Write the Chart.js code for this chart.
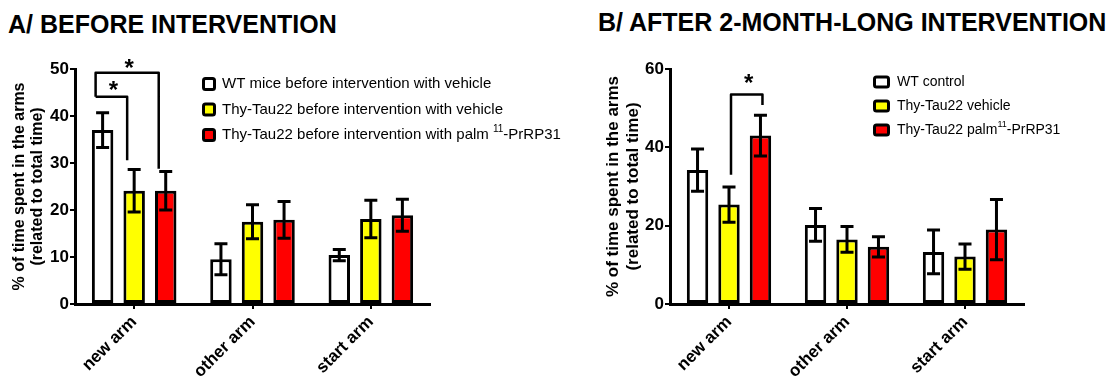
<!DOCTYPE html>
<html>
<head>
<meta charset="utf-8">
<script src="https://cdn.jsdelivr.net/npm/chart.js@4.4.1/dist/chart.umd.min.js"></script>
<style>
  body { margin: 0; width: 1110px; height: 378px; background: #fff; position: relative; overflow: hidden; font-family: "Liberation Sans", Arial, sans-serif; }
  .titulo { position: absolute; font-weight: bold; font-size: 25px; line-height: 25px; color: #000; white-space: nowrap; }
  canvas { position: absolute; top: 0; }
</style>
</head>
<body>
<div class="titulo" style="left:8px; top:12px">A/ BEFORE INTERVENTION</div>
<div class="titulo" style="left:598px; top:10px">B/ AFTER 2-MONTH-LONG INTERVENTION</div>
<canvas id="graficoA" width="570" height="378" style="left:0"></canvas>
<canvas id="graficoB" width="540" height="378" style="left:570px"></canvas>
<script>
//Datos
var categorias = ['new arm', 'other arm', 'start arm']
var tituloY = ['% of time spent in the arms', '(related to total time)']
var colores = ['#ffffff', '#ffff00', '#ff0000']

// A/ antes de la intervencion
var etiquetasA = ['WT mice before intervention with vehicle', 'Thy-Tau22 before intervention with vehicle', 'Thy-Tau22 before intervention with palm ¹¹-PrRP31']
var wtAntes = [37.0, 9.5, 10.4]
var wtAntesErr = [3.7, 3.3, 1.2]
var vehAntes = [24.1, 17.5, 18.1]
var vehAntesErr = [4.5, 3.6, 4.0]
var palmAntes = [24.1, 17.9, 18.9]
var palmAntesErr = [4.1, 3.9, 3.4]
var ticksA = [0, 10, 20, 30, 40, 50]

// B/ despues de 2 meses
var etiquetasB = ['WT control', 'Thy-Tau22 vehicle', 'Thy-Tau22 palm¹¹-PrRP31']
var wtDespues = [34.2, 20.2, 13.3]
var wtDespuesErr = [5.4, 4.2, 5.6]
var vehDespues = [25.4, 16.5, 12.1]
var vehDespuesErr = [4.5, 3.3, 3.2]
var palmDespues = [43.0, 14.6, 19.0]
var palmDespuesErr = [5.2, 2.6, 7.7]
var ticksB = [0, 20, 40, 60]

// corchetes de significancia (valores en unidades del eje y)
var signifA = [
    { grupo: 0, desde: 0, hasta: 2, nivel: 49.2, bajaDesde: 44.1, bajaHasta: 28.8, estrella: 51.3 },
    { grupo: 0, desde: 0, hasta: 1, nivel: 44.1, bajaDesde: 44.1, bajaHasta: 30.6, estrella: 46.6 }
]
var signifB = [
    { grupo: 0, desde: 1, hasta: 2, nivel: 53.5, bajaDesde: 33.0, bajaHasta: 50.8, estrella: 57.8 }
]

var fuente = '"Liberation Sans", Arial, sans-serif'
var supers = '⁰¹²³⁴⁵⁶⁷⁸⁹'

function escribir(ctx, texto, x, y, size) {
    var partes = texto.split(/([⁰¹²³⁴⁵⁶⁷⁸⁹]+)/)
    partes.forEach((p, k) => {
        if (!p) return
        var esSup = k % 2 == 1
        var t = esSup ? p.split('').map(c => supers.indexOf(c)).join('') : p
        ctx.font = (esSup ? Math.round(size * 0.66) : size) + 'px ' + fuente
        ctx.fillText(t, x, esSup ? y - size * 0.36 : y)
        x += ctx.measureText(t).width
    })
}

var barrasError = {
    id: 'barrasError',
    afterDatasetsDraw(chart) {
        var ctx = chart.ctx
        var ejeY = chart.scales.y
        ctx.save()
        ctx.strokeStyle = '#000'
        ctx.lineWidth = 3
        chart.data.datasets.forEach((ds, i) => {
            chart.getDatasetMeta(i).data.forEach((barra, j) => {
                var arriba = ejeY.getPixelForValue(ds.data[j] + ds.errores[j])
                var abajo = ejeY.getPixelForValue(ds.data[j] - ds.errores[j])
                ctx.beginPath()
                ctx.moveTo(barra.x, arriba); ctx.lineTo(barra.x, abajo)
                ctx.moveTo(barra.x - 6.5, arriba); ctx.lineTo(barra.x + 6.5, arriba)
                ctx.moveTo(barra.x - 6.5, abajo); ctx.lineTo(barra.x + 6.5, abajo)
                ctx.stroke()
            })
        })
        ctx.restore()
    }
}

var corchetes = {
    id: 'corchetes',
    afterDraw(chart, args, op) {
        var ctx = chart.ctx
        var ejeY = chart.scales.y
        ctx.save()
        ctx.strokeStyle = '#000'
        ctx.fillStyle = '#000'
        ctx.lineWidth = 2.5
        ctx.lineJoin = 'round'
        op.items.forEach(s => {
            var x1 = chart.getDatasetMeta(s.desde).data[s.grupo].x + op.dx
            var x2 = chart.getDatasetMeta(s.hasta).data[s.grupo].x + op.dx
            var yn = ejeY.getPixelForValue(s.nivel)
            ctx.beginPath()
            ctx.moveTo(x1, ejeY.getPixelForValue(s.bajaDesde))
            ctx.lineTo(x1, yn)
            ctx.lineTo(x2, yn)
            ctx.lineTo(x2, ejeY.getPixelForValue(s.bajaHasta))
            ctx.stroke()
            ctx.font = 'bold 24px ' + fuente
            ctx.textAlign = 'center'
            ctx.textBaseline = 'alphabetic'
            ctx.fillText('*', (x1 + x2) / 2 + 2, ejeY.getPixelForValue(s.estrella) + 13)
        })
        ctx.restore()
    }
}

var leyenda = {
    id: 'leyenda',
    afterDraw(chart, args, op) {
        var ctx = chart.ctx
        chart.data.datasets.forEach((ds, i) => {
            var cy = op.y + i * op.paso
            ctx.save()
            ctx.fillStyle = ds.backgroundColor
            ctx.strokeStyle = '#000'
            ctx.lineWidth = 3
            ctx.beginPath()
            ctx.roundRect(op.x + 1.5, cy - op.alto / 2 + 1.5, op.ancho - 3, op.alto - 3, 2)
            ctx.fill()
            ctx.stroke()
            ctx.fillStyle = '#000'
            ctx.textBaseline = 'middle'
            ctx.textAlign = 'left'
            escribir(ctx, ds.label, op.texto, cy, op.fuente)
            ctx.restore()
        })
    }
}

function crearGrafico(id, series, errores, etiquetas, ticks, conf) {
    var datasets = series.map((s, i) => ({
        label: etiquetas[i],
        data: s,
        errores: errores[i],
        backgroundColor: colores[i],
        borderColor: '#000',
        borderWidth: 3,
        borderSkipped: false,
        categoryPercentage: 0.8,
        barPercentage: 0.68
    }))
    return new Chart(document.getElementById(id), {
        type: 'bar',
        data: { labels: categorias, datasets: datasets },
        plugins: [barrasError, corchetes, leyenda],
        options: {
            responsive: false,
            animation: false,
            layout: { padding: { top: 69, right: conf.derecha, left: 0, bottom: 0 } },
            plugins: {
                legend: { display: false },
                tooltip: { enabled: false },
                corchetes: { items: conf.signif, dx: conf.dx },
                leyenda: conf.leyenda
            },
            scales: {
                x: {
                    offset: true,
                    grid: { offset: false, drawOnChartArea: false, tickLength: 5, color: '#000', lineWidth: 2 },
                    border: { color: '#000', width: 3 },
                    ticks: { minRotation: 45, maxRotation: 45, autoSkip: false, color: '#000', padding: 3, font: { family: fuente, size: 17, weight: 'bold' } },
                    afterFit: s => { s.height = 74 }
                },
                y: {
                    min: ticks[0],
                    max: ticks[ticks.length - 1],
                    grid: { drawOnChartArea: false, tickLength: 5, color: '#000', lineWidth: 2 },
                    border: { color: '#000', width: 3 },
                    ticks: { stepSize: ticks[1] - ticks[0], color: '#000', padding: 1, font: { family: fuente, size: 17, weight: 'bold' } },
                    title: { display: true, text: tituloY, color: '#000', padding: { top: conf.tituloPad, bottom: 0 }, font: { family: fuente, size: conf.tituloSize, weight: 'bold', lineHeight: conf.tituloLinea } },
                    afterFit: s => { s.width = conf.ejeAncho }
                }
            }
        }
    })
}

var graficoA = crearGrafico('graficoA', [wtAntes, vehAntes, palmAntes], [wtAntesErr, vehAntesErr, palmAntesErr], etiquetasA, ticksA, {
    derecha: 140, ejeAncho: 75, dx: -7, signif: signifA,
    tituloPad: 11, tituloSize: 16, tituloLinea: '18px',
    leyenda: { x: 202, y: 84, paso: 25.5, ancho: 14, alto: 14, texto: 222, fuente: 15 }
})

var graficoB = crearGrafico('graficoB', [wtDespues, vehDespues, palmDespues], [wtDespuesErr, vehDespuesErr, palmDespuesErr], etiquetasB, ticksB, {
    derecha: 86, ejeAncho: 100, dx: 2, signif: signifB,
    tituloPad: 33, tituloSize: 17, tituloLinea: '20px',
    leyenda: { x: 303, y: 82, paso: 24, ancho: 17, alto: 13, texto: 327, fuente: 14 }
})
</script>
</body>
</html>
